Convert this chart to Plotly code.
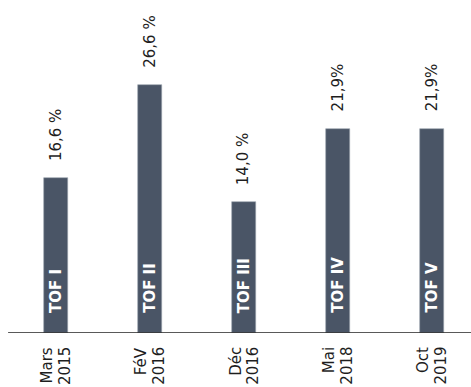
import plotly.graph_objects as go

month_labels = ["Mars", "FéV", "Déc", "Mai", "Oct"]
year_labels = ["2015", "2016", "2016", "2018", "2019"]
values = [16.6, 26.6, 14.0, 21.9, 21.9]
value_labels = ["16,6 %", "26,6 %", "14,0 %", "21,9%", "21,9%"]
bar_names = ["TOF I", "TOF II", "TOF III", "TOF IV", "TOF V"]

FONT = "DejaVu Sans"
BAR = "#4a5566"
TXT = "#1e1e1e"

x = list(range(len(values)))
fig = go.Figure()
fig.add_trace(go.Bar(x=x, y=values, width=0.255,
                     marker=dict(color=BAR, line=dict(color="#9aa3ad", width=0.6)),
                     hoverinfo="skip"))

for i, (v, lab, nm, mo, yr) in enumerate(zip(values, value_labels, bar_names,
                                               month_labels, year_labels)):
    fig.add_annotation(x=i, y=v, text=lab, textangle=-90, showarrow=False,
                       xanchor="center", yanchor="bottom", yshift=15,
                       font=dict(family=FONT, size=15, color=TXT))
    fig.add_annotation(x=i, y=0, text="<b>" + nm + "</b>", textangle=-90, showarrow=False,
                       xanchor="center", yanchor="bottom", yshift=18,
                       font=dict(family=FONT, size=15, color="white"))
    fig.add_annotation(x=i, y=0, text=mo, textangle=-90, showarrow=False,
                       xanchor="center", yanchor="top", yshift=-12, xshift=-8.5,
                       font=dict(family=FONT, size=15, color=TXT))
    fig.add_annotation(x=i, y=0, text=yr, textangle=-90, showarrow=False,
                       xanchor="center", yanchor="top", yshift=-12, xshift=9,
                       font=dict(family=FONT, size=15, color=TXT))

fig.update_layout(
    width=471, height=387,
    margin=dict(l=9, r=0, t=0, b=54),
    plot_bgcolor="white", paper_bgcolor="white",
    showlegend=False,
    bargap=0,
    xaxis=dict(range=[-0.5, 4.42], showgrid=False, zeroline=False,
               showline=False, ticks="", showticklabels=False),
    yaxis=dict(range=[0, 35.7], visible=False, showgrid=False, zeroline=False),
    shapes=[dict(type="line", xref="paper", yref="y", x0=-0.002, x1=1, y0=0, y1=0,
                 line=dict(color="#222", width=1.3))],
)

fig.write_html("out.html")
